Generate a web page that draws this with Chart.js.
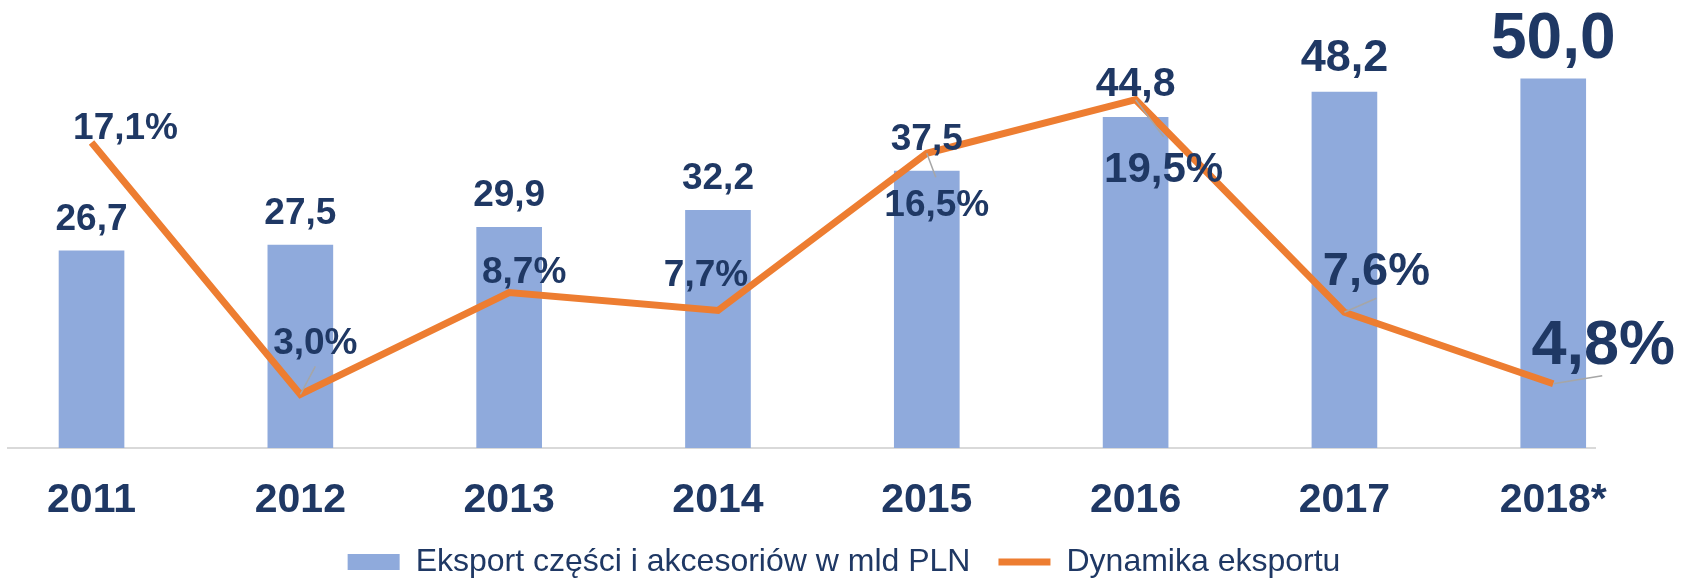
<!DOCTYPE html>
<html>
<head>
<meta charset="utf-8">
<script src="https://cdn.jsdelivr.net/npm/chart.js@4.4.1/dist/chart.umd.min.js"></script>
<style>
html, body { margin: 0; padding: 0; background: #fff; }
canvas { display: block; }
</style>
</head>
<body>
<canvas id="chart" width="1688" height="581"></canvas>
<script>
// dane
const lata = ['2011', '2012', '2013', '2014', '2015', '2016', '2017', '2018*'];
const eksport = [26.7, 27.5, 29.9, 32.2, 37.5, 44.8, 48.2, 50.0];
const dynamika = [17.1, 3.0, 8.7, 7.7, 16.5, 19.5, 7.6, 3.6];
const dynamikaOpis = ['17,1%', '3,0%', '8,7%', '7,7%', '16,5%', '19,5%', '7,6%', '4,8%'];

const FONT = "'Liberation Sans', Arial, sans-serif";
const GRANAT = '#1F3864';

// wielkosci czcionek etykiet
const rozmiarSlupek = [37, 37, 37, 37, 37, 41, 45, 64];
const rozmiarProcent = [37, 37, 37, 37, 37, 42, 47, 63];
// polozenie etykiet procentowych wzgledem punktu (+ linia odniesienia)
const przesuniecia = [
    {dx: 34, dy: -4},
    {dx: 15, dy: -40, lx: 15, ly: -28},
    {dx: 15, dy: -10},
    {dx: -12, dy: -24},
    {dx: 10, dy: 63, lx: 9, ly: 24},
    {dx: 28, dy: 82, lx: 28, ly: 37},
    {dx: 32, dy: -27, lx: 32, ly: -14},
    {dx: 50, dy: -20, lx: 49, ly: -8}
];

const etykiety = {
    id: 'etykiety',
    afterDatasetsDraw(chart) {
        const ctx = chart.ctx;
        ctx.save();
        ctx.textAlign = 'center';
        ctx.textBaseline = 'alphabetic';
        ctx.fillStyle = GRANAT;

        chart.getDatasetMeta(0).data.forEach((bar, i) => {
            ctx.font = 'bold ' + rozmiarSlupek[i] + 'px ' + FONT;
            ctx.fillText(eksport[i].toFixed(1).replace('.', ','), bar.x, bar.y - 21);
        });

        chart.getDatasetMeta(1).data.forEach((pt, i) => {
            const o = przesuniecia[i];
            if (o.lx !== undefined) {
                ctx.strokeStyle = '#A6A6A6';
                ctx.lineWidth = 1.5;
                ctx.beginPath();
                ctx.moveTo(pt.x, pt.y);
                ctx.lineTo(pt.x + o.lx, pt.y + o.ly);
                ctx.stroke();
            }
            ctx.font = 'bold ' + rozmiarProcent[i] + 'px ' + FONT;
            ctx.fillText(dynamikaOpis[i], pt.x + o.dx, pt.y + o.dy);
        });
        ctx.restore();
    }
};

new Chart(document.getElementById('chart'), {
    data: {
        datasets: [{
            type: 'bar',
            label: 'Eksport części i akcesoriów w mld PLN',
            data: eksport.map((v, i) => ({x: i, y: v})),
            backgroundColor: '#8FAADC',
            borderWidth: 0,
            barThickness: 65,
            yAxisID: 'y',
            order: 2,
            pointStyle: 'rect'
        }, {
            type: 'line',
            label: 'Dynamika eksportu',
            data: dynamika.map((v, i) => ({x: i, y: v})),
            borderColor: '#ED7D31',
            backgroundColor: '#ED7D31',
            borderWidth: 7,
            borderCapStyle: 'butt',
            borderJoinStyle: 'miter',
            pointRadius: 0,
            pointHoverRadius: 0,
            pointStyle: 'line',
            tension: 0,
            yAxisID: 'y1',
            order: 1
        }]
    },
    options: {
        responsive: false,
        animation: false,
        layout: {
            padding: {left: 8, right: 8, top: 5, bottom: 0}
        },
        scales: {
            x: {
                type: 'linear',
                min: -0.4,
                max: 7.2,
                offset: false,
                grid: {display: false, drawTicks: false, offset: false},
                border: {display: true, color: '#D9D9D9', width: 2},
                afterBuildTicks: s => { s.ticks = lata.map((_, i) => ({value: i})); },
                afterFit: s => { s.height = 70; },
                ticks: {
                    padding: 28,
                    autoSkip: false,
                    maxRotation: 0,
                    color: GRANAT,
                    font: {family: FONT, size: 41, weight: 'bold'},
                    callback: v => lata[v]
                }
            },
            y: {
                display: false,
                min: 0,
                max: 60
            },
            y1: {
                position: 'right',
                min: 0,
                max: 24.8,
                grid: {display: false},
                border: {display: false},
                ticks: {display: false},
                afterFit: s => { s.width = 85; }
            }
        },
        plugins: {
            legend: {
                position: 'bottom',
                maxHeight: 63,
                labels: {
                    usePointStyle: true,
                    pointStyleWidth: 52,
                    boxHeight: 16,
                    padding: 28,
                    color: GRANAT,
                    font: {family: FONT, size: 32},
                    sort: (a, b) => a.datasetIndex - b.datasetIndex
                }
            },
            tooltip: {enabled: false}
        }
    },
    plugins: [etykiety]
});
</script>
</body>
</html>
